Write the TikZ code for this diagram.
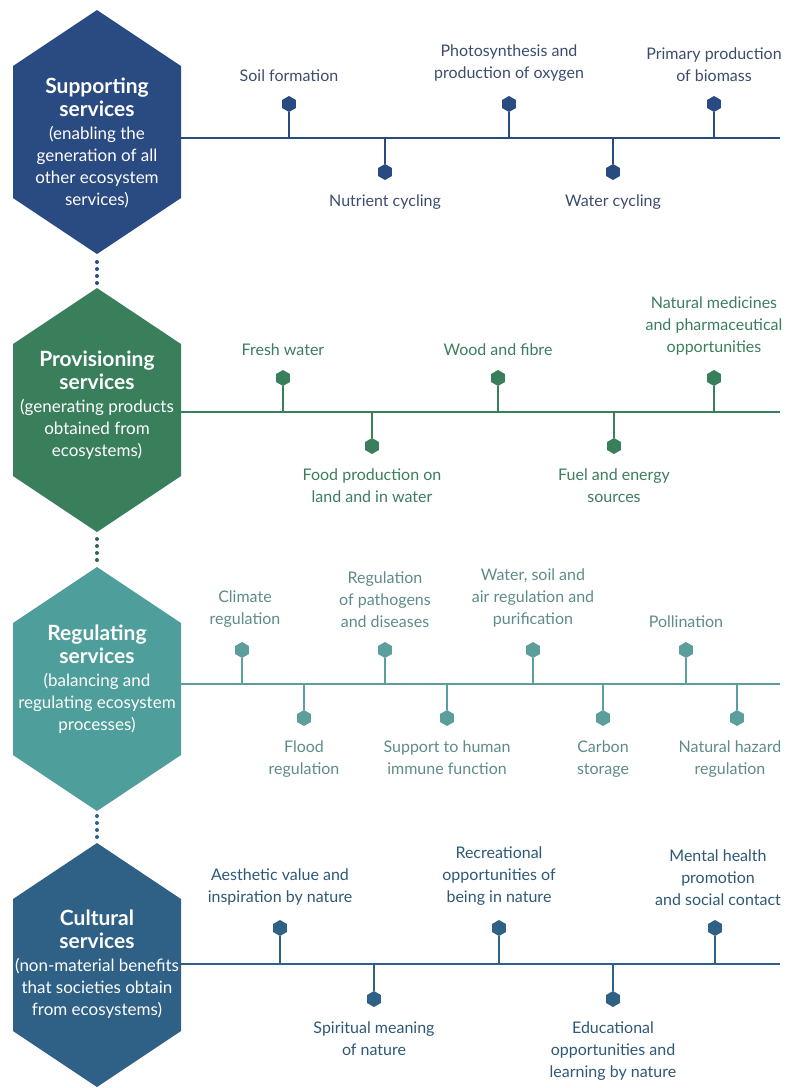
\documentclass[tikz,border=0pt]{standalone}
\usepackage{fontspec}
\setmainfont{Lato}
\usetikzlibrary{shapes.geometric,positioning}

\definecolor{supc}{HTML}{2A4A82}
\definecolor{proc}{HTML}{3A7F5C}
\definecolor{regc}{HTML}{4E9E9B}
\definecolor{reglc}{HTML}{5C9E9C}
\definecolor{culc}{HTML}{2F6086}
\definecolor{suptx}{HTML}{3D4C6E}
\definecolor{protx}{HTML}{3B7D5D}
\definecolor{regtx}{HTML}{5E8B8A}
\definecolor{cultx}{HTML}{2E5877}

\begin{document}
\begin{tikzpicture}[
    x=1pt, y=1pt,
    node distance=14pt,
    hexhead/.style={anchor=north, align=center, text=white, inner sep=0pt,
                    font=\fontsize{21}{23}\selectfont\bfseries},
    hexsub/.style={align=center, text=white, inner sep=0pt,
                   font=\fontsize{17}{22}\selectfont},
    pin/.style={regular polygon, regular polygon sides=6, shape border rotate=30,
                minimum size=16pt, inner sep=0pt},
    lbl/.style={align=center, inner sep=0pt, font=\fontsize{16}{22}\selectfont},
    axis/.style={line width=2.6pt},
    stem/.style={line width=2.4pt},
    dots/.style={line width=4pt, line cap=round, dash pattern=on 0pt off 7pt}
]
    \useasboundingbox (0,0) rectangle (792,-1088);

    % hexagons
    \fill[supc] (97,-10)  -- ++(84,-56) -- ++(0,-132) -- ++(-84,-56) -- ++(-84,56) -- ++(0,132) -- cycle;
    \fill[proc] (97,-288) -- ++(84,-56) -- ++(0,-132) -- ++(-84,-56) -- ++(-84,56) -- ++(0,132) -- cycle;
    \fill[regc] (97,-567) -- ++(84,-56) -- ++(0,-132) -- ++(-84,-56) -- ++(-84,56) -- ++(0,132) -- cycle;
    \fill[culc] (97,-843) -- ++(84,-56) -- ++(0,-132) -- ++(-84,-56) -- ++(-84,56) -- ++(0,132) -- cycle;

    \node [hexhead] (sup) at (97,-78)  {Supporting\\services};
    \node [hexsub, below=9pt of sup]  (sup-s) {(enabling the\\generation of all\\other ecosystem\\services)};
    \node [hexhead] (pro) at (97,-351) {Provisioning\\services};
    \node [hexsub, below=9pt of pro]  (pro-s) {(generating products\\obtained from\\ecosystems)};
    \node [hexhead] (reg) at (97,-625) {Regulating\\services};
    \node [hexsub, below=9pt of reg]  (reg-s) {(balancing and\\regulating ecosystem\\processes)};
    \node [hexhead] (cul) at (97,-910) {Cultural\\services};
    \node [hexsub, below=9pt of cul]  (cul-s) {(non-material benefits\\that societies obtain\\from ecosystems)};

    % dotted links between hexagons
    \coordinate (sup-b) at (97,-262);
    \coordinate (pro-t) at (97,-283.5);
    \coordinate (pro-b) at (97,-539);
    \coordinate (reg-t) at (97,-560.5);
    \coordinate (reg-b) at (97,-816);
    \coordinate (cul-t) at (97,-837.5);
    \draw [dots, draw=supc] (sup-b) -- (pro-t);
    \draw [dots, draw=proc!80!black] (pro-b) -- (reg-t);
    \draw [dots, draw=culc] (reg-b) -- (cul-t);

    % supporting services
    \coordinate (sup-l) at (181,-138);
    \coordinate (sup-r) at (780,-138);
    \draw [axis, draw=supc] (sup-l) -- (sup-r);
    \node [pin, fill=supc] (soil)     at (289,-104) {};
    \node [pin, fill=supc] (nutrient) at (385,-172) {};
    \node [pin, fill=supc] (photo)    at (509,-104) {};
    \node [pin, fill=supc] (watercyc) at (613,-172) {};
    \node [pin, fill=supc] (biomass)  at (714,-104) {};
    \node [lbl, text=suptx, above=of soil]     (soil-t)     {Soil formation};
    \node [lbl, text=suptx, below=of nutrient] (nutrient-t) {Nutrient cycling};
    \node [lbl, text=suptx, above=of photo]    (photo-t)    {Photosynthesis and\\production of oxygen};
    \node [lbl, text=suptx, below=of watercyc] (watercyc-t) {Water cycling};
    \node [lbl, text=suptx, above=of biomass]  (biomass-t)  {Primary production\\of biomass};
    \foreach \n in {soil,nutrient,photo,watercyc,biomass}
        \draw [stem, draw=supc] (\n) -- (\n |- sup-l);

    % provisioning services
    \coordinate (pro-l) at (181,-412);
    \coordinate (pro-r) at (780,-412);
    \draw [axis, draw=proc] (pro-l) -- (pro-r);
    \node [pin, fill=proc] (fresh) at (283,-378) {};
    \node [pin, fill=proc] (food)  at (372,-446) {};
    \node [pin, fill=proc] (wood)  at (498,-378) {};
    \node [pin, fill=proc] (fuel)  at (614,-446) {};
    \node [pin, fill=proc] (medic) at (714,-378) {};
    \node [lbl, text=protx, above=of fresh] (fresh-t) {Fresh water};
    \node [lbl, text=protx, below=of food]  (food-t)  {Food production on\\land and in water};
    \node [lbl, text=protx, above=of wood]  (wood-t)  {Wood and fibre};
    \node [lbl, text=protx, below=of fuel]  (fuel-t)  {Fuel and energy\\sources};
    \node [lbl, text=protx, above=of medic] (medic-t) {Natural medicines\\and pharmaceutical\\opportunities};
    \foreach \n in {fresh,food,wood,fuel,medic}
        \draw [stem, draw=proc] (\n) -- (\n |- pro-l);

    % regulating services
    \coordinate (reg-l) at (181,-684);
    \coordinate (reg-r) at (780,-684);
    \draw [axis, draw=reglc] (reg-l) -- (reg-r);
    \node [pin, fill=reglc] (climate)  at (242,-650) {};
    \node [pin, fill=reglc] (flood)    at (304,-718) {};
    \node [pin, fill=reglc] (pathogen) at (385,-650) {};
    \node [pin, fill=reglc] (immune)   at (447,-718) {};
    \node [pin, fill=reglc] (purif)    at (533,-650) {};
    \node [pin, fill=reglc] (carbon)   at (603,-718) {};
    \node [pin, fill=reglc] (pollin)   at (686,-650) {};
    \node [pin, fill=reglc] (hazard)   at (737,-718) {};
    \node [lbl, text=regtx, above=of climate, xshift=3pt] (climate-t)  {Climate\\regulation};
    \node [lbl, text=regtx, below=of flood]    (flood-t)    {Flood\\regulation};
    \node [lbl, text=regtx, above=of pathogen] (pathogen-t) {Regulation\\of pathogens\\and diseases};
    \node [lbl, text=regtx, below=of immune]   (immune-t)   {Support to human\\immune function};
    \node [lbl, text=regtx, above=of purif]    (purif-t)    {Water, soil and\\air regulation and\\purification};
    \node [lbl, text=regtx, below=of carbon]   (carbon-t)   {Carbon\\storage};
    \node [lbl, text=regtx, above=of pollin]   (pollin-t)   {Pollination};
    \node [lbl, text=regtx, below=of hazard, xshift=-7pt] (hazard-t) {Natural hazard\\regulation};
    \foreach \n in {climate,flood,pathogen,immune,purif,carbon,pollin,hazard}
        \draw [stem, draw=reglc] (\n) -- (\n |- reg-l);

    % cultural services
    \coordinate (cul-l) at (181,-964);
    \coordinate (cul-r) at (780,-964);
    \draw [axis, draw=culc] (cul-l) -- (cul-r);
    \node [pin, fill=culc] (aesth)  at (280,-928) {};
    \node [pin, fill=culc] (spirit) at (374,-999) {};
    \node [pin, fill=culc] (recre)  at (499,-928) {};
    \node [pin, fill=culc] (educ)   at (613,-999) {};
    \node [pin, fill=culc] (mental) at (715,-928) {};
    \node [lbl, text=cultx, above=of aesth]  (aesth-t)  {Aesthetic value and\\inspiration by nature};
    \node [lbl, text=cultx, below=of spirit] (spirit-t) {Spiritual meaning\\of nature};
    \node [lbl, text=cultx, above=of recre]  (recre-t)  {Recreational\\opportunities of\\being in nature};
    \node [lbl, text=cultx, below=of educ]   (educ-t)   {Educational\\opportunities and\\learning by nature};
    \node [lbl, text=cultx, above=of mental, xshift=3pt] (mental-t) {Mental health\\promotion\\and social contact};
    \foreach \n in {aesth,spirit,recre,educ,mental}
        \draw [stem, draw=culc] (\n) -- (\n |- cul-l);
\end{tikzpicture}
\end{document}
